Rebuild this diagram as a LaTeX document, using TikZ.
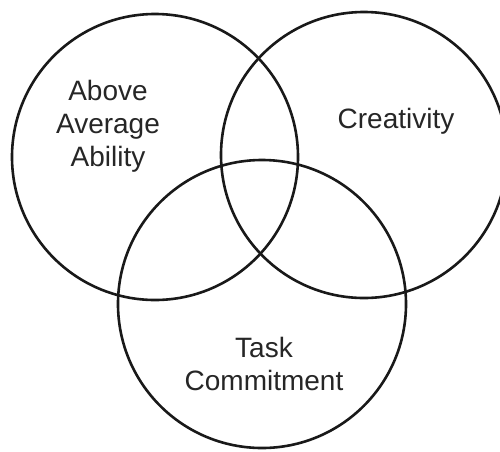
\documentclass[tikz,border=0pt]{standalone}
\usepackage{fontspec}
\setmainfont{Liberation Sans}
\begin{document}
\begin{tikzpicture}[x=1pt,y=-1pt,
  ring/.style={draw=black!90, line width=2.6pt},
  label/.style={inner sep=0pt, align=center, text=black!85,
    font=\fontsize{28}{33}\selectfont}]
\useasboundingbox (0,0) rectangle (500,451);
% three overlapping rings
\draw[ring] (155,157) circle (143);
\draw[ring] (364,155) circle (143);
\draw[ring] (262,304) circle (144);
% ring labels (anchored at the baseline of their last line)
\node[label, anchor=base] (ability) at (108,166) {Above\\Average\\Ability};
\node[label, anchor=base] (creativity) at (396,128) {Creativity};
\node[label, anchor=base] (task) at (264,390) {Task\\Commitment};
\end{tikzpicture}
\end{document}
